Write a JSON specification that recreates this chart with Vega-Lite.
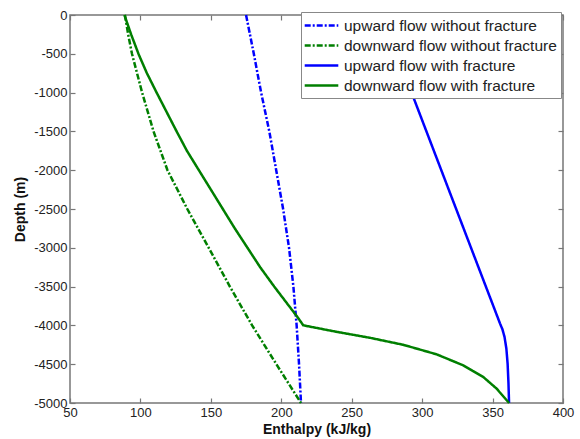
{
  "$schema": "https://vega.github.io/schema/vega-lite/v6.json",
  "autosize": "none",
  "width": 493,
  "height": 388,
  "padding": {"left": 70, "top": 15, "right": 17, "bottom": 36},
  "background": "white",
  "config": {
    "view": {"stroke": "#777", "strokeWidth": 1.5},
    "font": "Liberation Sans",
    "axis": {
      "domain": false,
      "tickColor": "#777",
      "tickWidth": 1.2,
      "labelColor": "#222",
      "titleColor": "#111",
      "labelFont": "Liberation Sans",
      "titleFont": "Liberation Sans",
      "labelFontSize": 13,
      "titleFontSize": 14,
      "titleFontWeight": "bold",
      "grid": false,
      "tickSize": -5,
      "labelPadding": 8,
      "labelFlush": false
    }
  },
  "data": {
    "values": [
      {"s": "upward flow without fracture", "d": 0, "h": 175},
      {"s": "upward flow without fracture", "d": -500, "h": 180.5},
      {"s": "upward flow without fracture", "d": -1000, "h": 185.7},
      {"s": "upward flow without fracture", "d": -1500, "h": 191.5},
      {"s": "upward flow without fracture", "d": -2000, "h": 196.4},
      {"s": "upward flow without fracture", "d": -2500, "h": 201.3},
      {"s": "upward flow without fracture", "d": -3000, "h": 205.5},
      {"s": "upward flow without fracture", "d": -3500, "h": 208.6},
      {"s": "upward flow without fracture", "d": -4000, "h": 210.9},
      {"s": "upward flow without fracture", "d": -4500, "h": 212.6},
      {"s": "upward flow without fracture", "d": -5000, "h": 214},
      {"s": "downward flow without fracture", "d": 0, "h": 89},
      {"s": "downward flow without fracture", "d": -250, "h": 91.3},
      {"s": "downward flow without fracture", "d": -500, "h": 94},
      {"s": "downward flow without fracture", "d": -1000, "h": 101.2},
      {"s": "downward flow without fracture", "d": -1500, "h": 109.3},
      {"s": "downward flow without fracture", "d": -2000, "h": 119.2},
      {"s": "downward flow without fracture", "d": -2500, "h": 133.3},
      {"s": "downward flow without fracture", "d": -3000, "h": 148.5},
      {"s": "downward flow without fracture", "d": -3500, "h": 163.5},
      {"s": "downward flow without fracture", "d": -4000, "h": 179.3},
      {"s": "downward flow without fracture", "d": -4500, "h": 196.5},
      {"s": "downward flow without fracture", "d": -5000, "h": 214},
      {"s": "upward flow with fracture", "d": 0, "h": 271.4},
      {"s": "upward flow with fracture", "d": -1000, "h": 292.5},
      {"s": "upward flow with fracture", "d": -2000, "h": 313.6},
      {"s": "upward flow with fracture", "d": -3000, "h": 334.7},
      {"s": "upward flow with fracture", "d": -3900, "h": 353.7},
      {"s": "upward flow with fracture", "d": -3977, "h": 355.3},
      {"s": "upward flow with fracture", "d": -4050, "h": 357},
      {"s": "upward flow with fracture", "d": -4150, "h": 358.5},
      {"s": "upward flow with fracture", "d": -4300, "h": 359.8},
      {"s": "upward flow with fracture", "d": -4500, "h": 360.7},
      {"s": "upward flow with fracture", "d": -4750, "h": 361.3},
      {"s": "upward flow with fracture", "d": -5000, "h": 361.7},
      {"s": "downward flow with fracture", "d": 0, "h": 88.6},
      {"s": "downward flow with fracture", "d": -250, "h": 93.4},
      {"s": "downward flow with fracture", "d": -500, "h": 98.6},
      {"s": "downward flow with fracture", "d": -750, "h": 104.6},
      {"s": "downward flow with fracture", "d": -1000, "h": 111.5},
      {"s": "downward flow with fracture", "d": -1250, "h": 118.6},
      {"s": "downward flow with fracture", "d": -1500, "h": 125.7},
      {"s": "downward flow with fracture", "d": -1750, "h": 133},
      {"s": "downward flow with fracture", "d": -2000, "h": 141.5},
      {"s": "downward flow with fracture", "d": -2250, "h": 150},
      {"s": "downward flow with fracture", "d": -2500, "h": 158.5},
      {"s": "downward flow with fracture", "d": -2750, "h": 167},
      {"s": "downward flow with fracture", "d": -3000, "h": 176},
      {"s": "downward flow with fracture", "d": -3250, "h": 185},
      {"s": "downward flow with fracture", "d": -3500, "h": 195},
      {"s": "downward flow with fracture", "d": -3750, "h": 205.5},
      {"s": "downward flow with fracture", "d": -3900, "h": 211.8},
      {"s": "downward flow with fracture", "d": -3999, "h": 215.6},
      {"s": "downward flow with fracture", "d": -4083, "h": 239.3},
      {"s": "downward flow with fracture", "d": -4160, "h": 263},
      {"s": "downward flow with fracture", "d": -4250, "h": 286.6},
      {"s": "downward flow with fracture", "d": -4373, "h": 310.3},
      {"s": "downward flow with fracture", "d": -4515, "h": 329.2},
      {"s": "downward flow with fracture", "d": -4665, "h": 343.4},
      {"s": "downward flow with fracture", "d": -4815, "h": 352.9},
      {"s": "downward flow with fracture", "d": -5000, "h": 361.7}
    ]
  },
  "layer": [
    {
      "mark": {"type": "line", "strokeWidth": 2.5, "strokeCap": "butt"},
      "encoding": {
        "x": {
          "field": "h", "type": "quantitative",
          "scale": {"domain": [50, 400], "nice": false, "zero": false},
          "axis": {"orient": "bottom", "values": [50, 100, 150, 200, 250, 300, 350, 400], "title": "Enthalpy (kJ/kg)", "titlePadding": 3}
        },
        "y": {
          "field": "d", "type": "quantitative",
          "scale": {"domain": [-5000, 0], "nice": false, "zero": false},
          "axis": {"orient": "left", "values": [-5000, -4500, -4000, -3500, -3000, -2500, -2000, -1500, -1000, -500, 0], "title": "Depth (m)", "titlePadding": 6, "labelExpr": "'' + datum.value"}
        },
        "order": {"field": "d", "sort": "descending"},
        "color": {
          "field": "s", "type": "nominal",
          "scale": {
            "domain": ["upward flow without fracture", "downward flow without fracture", "upward flow with fracture", "downward flow with fracture"],
            "range": ["#0000ff", "#007f00", "#0000ff", "#007f00"]
          },
          "legend": {
            "title": null,
            "orient": "none",
            "legendX": 231,
            "legendY": -3,
            "fillColor": "white",
            "strokeColor": "#888",
            "padding": 4,
            "rowPadding": 2,
            "labelFont": "Liberation Sans",
            "labelFontSize": 15.5,
            "labelColor": "#222",
            "labelOffset": 13,
            "labelLimit": 300,
            "symbolType": "M-2.1,0H2.1",
            "symbolSize": 256,
            "symbolOffset": 7,
            "symbolStrokeWidth": 2.5
          }
        },
        "strokeDash": {
          "field": "s", "type": "nominal",
          "scale": {
            "domain": ["upward flow without fracture", "downward flow without fracture", "upward flow with fracture", "downward flow with fracture"],
            "range": [[6, 2, 2, 2], [6, 2, 2, 2], [1, 0], [1, 0]]
          },
          "legend": null
        }
      }
    },
    {
      "mark": {"type": "line", "opacity": 0},
      "encoding": {
        "x": {
          "field": "h", "type": "quantitative",
          "axis": {"orient": "top", "values": [50, 100, 150, 200, 250, 300, 350, 400], "labels": false, "title": null}
        },
        "y": {
          "field": "d", "type": "quantitative",
          "axis": {"orient": "right", "values": [-5000, -4500, -4000, -3500, -3000, -2500, -2000, -1500, -1000, -500, 0], "labels": false, "title": null}
        },
        "detail": {"field": "s", "type": "nominal"},
        "order": {"field": "d", "sort": "descending"}
      }
    }
  ],
  "resolve": {"axis": {"x": "independent", "y": "independent"}}
}
